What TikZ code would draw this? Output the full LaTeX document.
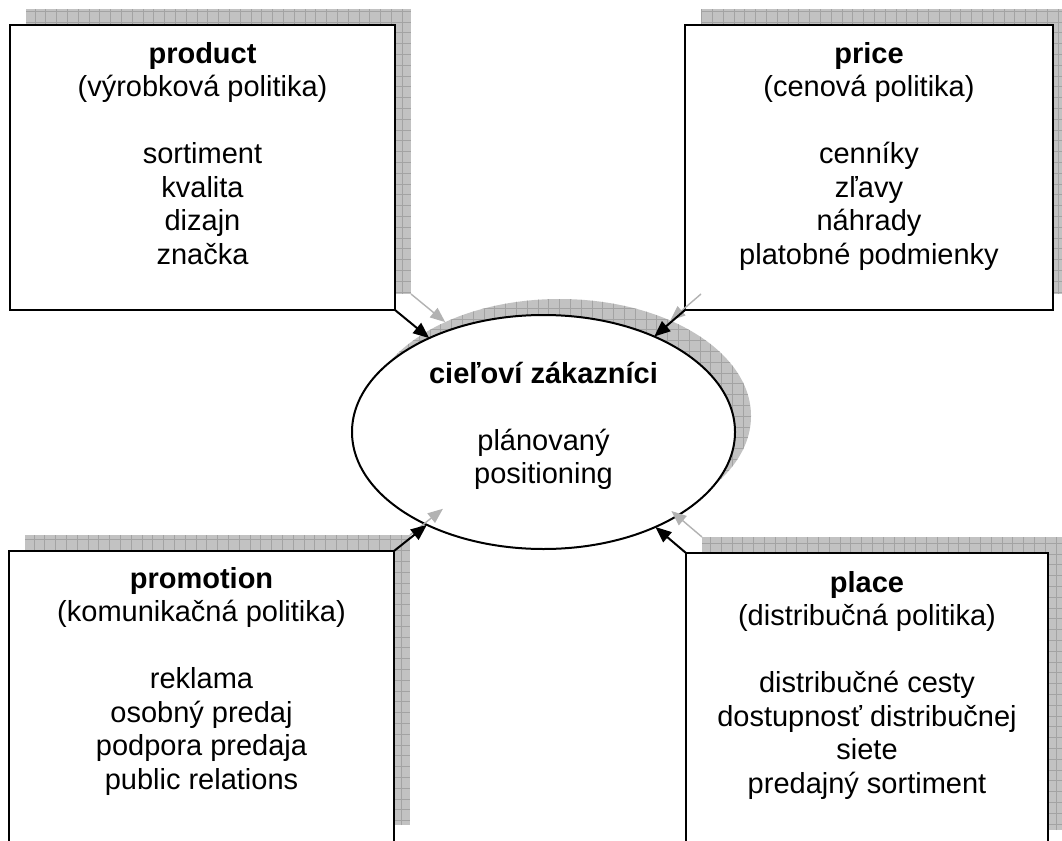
\documentclass[tikz,border=0pt]{standalone}
\usepackage{fontspec}
\setmainfont{Liberation Sans}
\usetikzlibrary{shapes.geometric,arrows.meta}
\tikzset{
  shadowgrid/.style={fill=black!24, draw=none, inner sep=0pt, outer sep=0pt,
    path picture={\draw[black!36, line width=0.6pt, step=10.8pt]
      (path picture bounding box.south west) grid (path picture bounding box.north east);}},
  shadowbox/.style={shadowgrid, rectangle},
  shadowell/.style={shadowgrid, ellipse, minimum width=383pt, minimum height=234pt},
  mixbox/.style={rectangle, draw=black, fill=white, line width=2.5pt, inner sep=0pt, outer sep=0pt},
  custell/.style={ellipse, draw=black, fill=white, line width=2pt, inner sep=0pt, outer sep=0pt,
    minimum width=383pt, minimum height=234pt},
  txt/.style={anchor=north, align=center, inner sep=0pt, font=\fontsize{29pt}{33.5pt}\selectfont},
  mainarrow/.style={draw=black, line width=2pt, -{Triangle[length=16pt,width=13pt]}, shorten >=0pt},
  shadowarrow/.style={draw=black!30, line width=1.4pt, -{Triangle[length=15pt,width=12pt]}},
}
\begin{document}
\begin{tikzpicture}[x=1pt,y=-1pt]
\clip (0,0) rectangle (1062,840);
\fill[white] (0,0) rectangle (1062,840);
% shadows
\node[shadowbox, minimum width=385pt, minimum height=285pt] (prodsh) at (218.5,151.5) {};
\node[shadowbox, minimum width=368pt, minimum height=285pt] (pricesh) at (885,151.5) {};
\node[shadowbox, minimum width=385pt, minimum height=290pt] (promsh) at (217.5,680) {};
\node[shadowbox, minimum width=362pt, minimum height=293pt] (placesh) at (883,683.5) {};
\node[shadowell] (custsh) at (559.5,416) {};
% boxes
\node[mixbox, minimum width=385pt, minimum height=285pt] (prod) at (202.5,167.5) {};
\node[mixbox, minimum width=368pt, minimum height=285pt] (price) at (869,167.5) {};
\node[mixbox, minimum width=385pt, minimum height=297pt] (prom) at (201.5,699.5) {};
\node[mixbox, minimum width=362pt, minimum height=295pt] (place) at (867,700.5) {};
\node[custell] (cust) at (543.5,432) {};
% shadow arrows
\draw[shadowarrow] (prodsh.south east) -- (custsh);
\draw[shadowarrow] (pricesh.south west) -- (custsh);
\draw[shadowarrow] (promsh.north east) -- (custsh);
\draw[shadowarrow] (placesh.north west) -- (custsh);
% main arrows
\draw[mainarrow] (prod.south east) -- (cust);
\draw[mainarrow] (price.south west) -- (cust);
\draw[mainarrow] (prom.north east) -- (cust);
\draw[mainarrow] (place.north west) -- (cust);
% texts
\node[txt] (prodtxt) at (202.5,39) {\rule{0pt}{24pt}\textbf{product}\\(výrobková politika)\\[33.5pt]sortiment\\kvalita\\dizajn\\značka};
\node[txt] (pricetxt) at (869,39) {\rule{0pt}{24pt}\textbf{price}\\(cenová politika)\\[33.5pt]cenníky\\zľavy\\náhrady\\platobné podmienky};
\node[txt] (promtxt) at (201.5,564) {\rule{0pt}{24pt}\textbf{promotion}\\(komunikačná politika)\\[33.5pt]reklama\\osobný predaj\\podpora predaja\\public relations};
\node[txt] (placetxt) at (867,568) {\rule{0pt}{24pt}\textbf{place}\\(distribučná politika)\\[33.5pt]distribučné cesty\\dostupnosť distribučnej\\siete\\predajný sortiment};
\node[txt] (custtxt) at (543.5,359) {\rule{0pt}{24pt}\textbf{cieľoví zákazníci}\\[33.5pt]plánovaný\\positioning};
\end{tikzpicture}
\end{document}
